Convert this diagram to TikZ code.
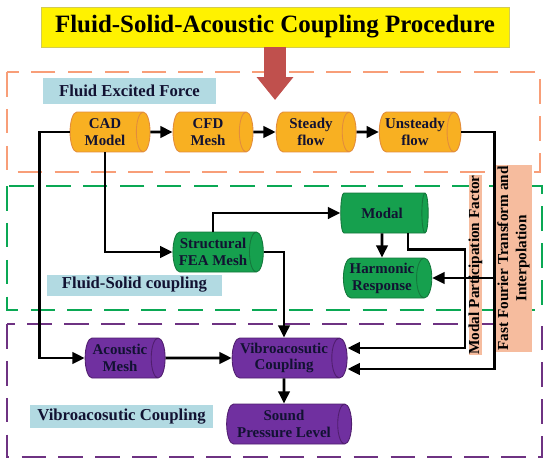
\documentclass[tikz,border=0pt]{standalone}
\usepackage{fontspec}
\setmainfont{Liberation Serif}
\usepackage{xcolor}
\usepackage{tikz}
\usetikzlibrary{arrows.meta, positioning, shapes.geometric, calc}

\definecolor{cadOrange}{RGB}{248,176,34}
\definecolor{cadOrangeLine}{RGB}{226,140,60}
\definecolor{feaGreen}{RGB}{22,160,78}
\definecolor{feaGreenLine}{RGB}{20,120,60}
\definecolor{acPurple}{RGB}{112,48,160}
\definecolor{acPurpleLine}{RGB}{80,30,110}
\definecolor{tagBlue}{RGB}{178,218,226}
\definecolor{tagSalmon}{RGB}{246,188,158}
\definecolor{frameOrange}{RGB}{248,158,120}
\definecolor{frameGreen}{RGB}{10,168,84}
\definecolor{framePurple}{RGB}{110,50,130}
\definecolor{titleRed}{RGB}{192,80,77}
\definecolor{textNavy}{RGB}{18,18,50}

\begin{document}
\begin{tikzpicture}[
    x=0.02cm, y=-0.02cm,
    cyl/.style={cylinder, shape border rotate=0, aspect=0.45, draw, line width=0.5pt, minimum height=1.6cm, minimum width=0.8cm, inner sep=1pt, align=center, text=textNavy, font=\fontsize{8.5}{9.6}\selectfont\bfseries},
    fluidCyl/.style={cyl, fill=cadOrange, draw=cadOrangeLine},
    solidCyl/.style={cyl, fill=feaGreen, draw=feaGreenLine, minimum height=1.75cm},
    acousticCyl/.style={cyl, fill=acPurple, draw=acPurpleLine},
    tag/.style={fill=tagBlue, rectangle, inner sep=0pt, text=textNavy, font=\fontsize{9.5}{11}\selectfont\bfseries},
    sideTag/.style={fill=tagSalmon, rectangle, inner sep=0pt, rotate=90, align=center, text=black, font=\fontsize{8.7}{10.5}\selectfont\bfseries},
    frame/.style={draw, line width=1.6pt, dash pattern=on 14pt off 7pt},
    line/.style={draw, line width=1.6pt, -{Triangle[length=7pt, width=6.5pt]}},
    bigArrow/.style={draw=titleRed, line width=12.5pt, -{Triangle[length=13pt, width=20pt]}}
]
    \useasboundingbox (0,0) rectangle (550,463);

    % Frames
    \draw[frame, frameOrange] (7,72) rectangle (540,172);
    \draw[frame, frameGreen] (7,186) rectangle (542,310);
    \draw[frame, framePurple] (7,324) rectangle (542,457);

    % Title
    \node[fill=yellow, draw=yellow!60!gray, line width=0.5pt, minimum width=9.36cm, minimum height=0.8cm, font=\fontsize{14.2}{16}\selectfont\bfseries] (title) at (275,27) {Fluid-Solid-Acoustic Coupling Procedure};
    \coordinate (arrowTip) at (275,100);
    \draw[bigArrow] (title.south) -- (arrowTip);

    % Tags
    \node[tag, minimum width=3.46cm, minimum height=0.52cm] (forceTag) at (129.5,91) {Fluid Excited Force};
    \node[tag, minimum width=3.5cm, minimum height=0.42cm] (fsiTag) at (134.5,285) {Fluid-Solid coupling};
    \node[tag, minimum width=3.66cm, minimum height=0.46cm] (vaTag) at (121.5,416.5) {Vibroacosutic Coupling};
    \node[sideTag, minimum width=3.6cm, minimum height=0.27cm] (mpfTag) at (475.5,265) {Modal Participation Factor};
    \node[sideTag, minimum width=3.74cm, minimum height=0.74cm] (fftTag) at (513.5,258.5) {Fast Fourier Transform and\\Interpolation};

    % Nodes
    \node[fluidCyl] (cad) at (105,132) {CAD\\Model};
    \node[fluidCyl] (cfd) at (208,132) {CFD\\Mesh};
    \node[fluidCyl] (steady) at (311,132) {Steady\\flow};
    \node[fluidCyl] (unsteady) at (415,132) {Unsteady\\flow};

    \node[solidCyl] (fea) at (213,252) {Structural\\FEA Mesh};
    \node[solidCyl] (modal) at (382,213) {Modal};
    \node[solidCyl] (harmonic) at (382,278) {Harmonic\\Response};

    \node[acousticCyl] (acMesh) at (120,358) {Acoustic\\Mesh};
    \node[acousticCyl, minimum height=2.3cm] (vibro) at (284,358) {Vibroacosutic\\Coupling};
    \node[acousticCyl, minimum height=2.5cm] (spl) at (284,424) {Sound\\Pressure Level};

    % Connections
    \draw[line] (cad) -- (cfd);
    \draw[line] (cfd) -- (steady);
    \draw[line] (steady) -- (unsteady);

    \coordinate (fftBus) at ($(unsteady.east)+(33,0)$);
    \draw[line] (unsteady.east) -- (fftBus) |- ($(vibro.east)+(0,11)$);
    \draw[line] (fftBus |- harmonic.east) -- (harmonic.east);

    \draw[line] ($(modal.south)+(26,0)$) -- ++(0,16) -- ++(57,0) |- ($(vibro.east)+(0,-10)$);
    \draw[line] (modal) -- (harmonic);

    \draw[line] (cad.west) -- ++(-30,0) |- (acMesh.west);
    \draw[line] (cad.south) |- (fea.west);
    \draw[line] (fea.north) |- (modal.west);
    \draw[line] (fea.east) -| (vibro.north);

    \draw[line] (acMesh) -- (vibro);
    \draw[line] (vibro) -- (spl);

\end{tikzpicture}
\end{document}
